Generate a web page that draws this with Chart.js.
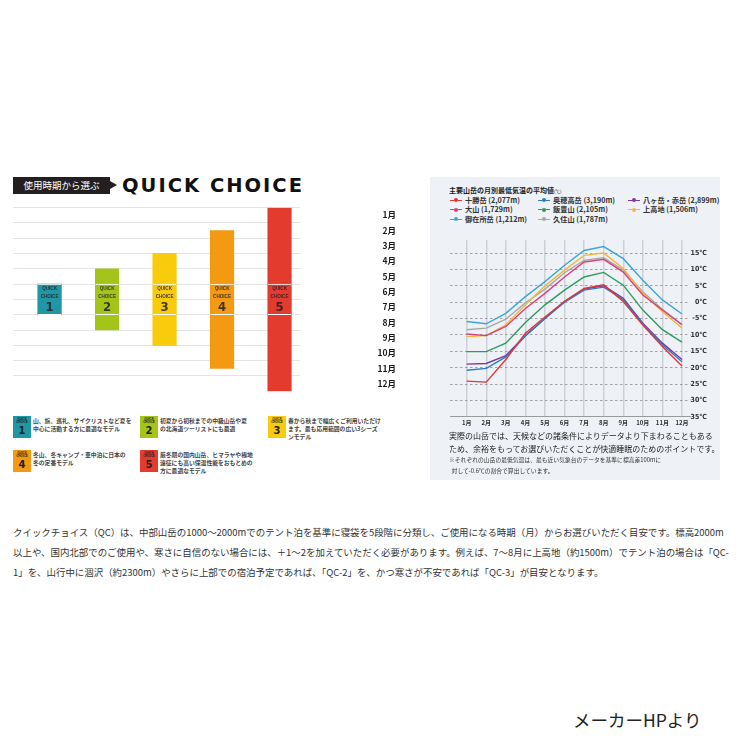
<!DOCTYPE html>
<html lang="ja">
<head>
<meta charset="utf-8">
<title>QUICK CHOICE</title>
<script src="https://cdn.jsdelivr.net/npm/chart.js@4.4.1/dist/chart.umd.min.js"></script>
<style>
  body { margin:0; width:750px; height:750px; background:#fff; position:relative; overflow:hidden;
         font-family:"Noto Sans CJK JP", sans-serif; color:#222; }
  .abs { position:absolute; white-space:nowrap; }
  #qcTag { left:13px; top:177px; width:97px; height:17px; background:#231f20; color:#fff;
           font-size:9.5px; line-height:17px; text-align:center; }
  #qcArrow { left:110px; top:181px; width:0; height:0; border-top:4.5px solid transparent;
             border-bottom:4.5px solid transparent; border-left:7px solid #231f20; }
  #qcTitle { left:122px; top:175px; font-family:"DejaVu Sans", sans-serif; font-weight:bold;
             font-size:19.5px; line-height:22px; letter-spacing:2px; color:#111; }
  .icon { width:18px; height:22px; color:#222; text-align:center; font-family:"Liberation Sans", sans-serif; }
  .icon .s { font-size:3px; line-height:3.4px; font-weight:bold; padding-top:2px; }
  .icon .n { font-family:"Liberation Sans Narrow", "DejaVu Sans Condensed", "Liberation Sans", sans-serif;
             font-weight:bold; font-size:11px; line-height:11px; }
  .desc { font-size:5.8px; line-height:8.3px; font-weight:bold; color:#444; }
  #panel { left:430px; top:177px; width:290px; height:303px; background:#eef1f5; }
  #tTitle { left:449px; top:185px; font-size:7px; line-height:10px; font-weight:bold; color:#222; }
  #tTitle small { font-size:4.5px; font-weight:normal; }
  .lg { font-size:7.2px; line-height:9px; font-weight:bold; color:#333; }
  .lg i { display:inline-block; position:relative; width:12px; height:9px; vertical-align:top; margin-right:3px; }
  .lg i b { position:absolute; left:0; top:4px; width:12px; height:1.2px; }
  .lg i u { position:absolute; left:4px; top:2.6px; width:4px; height:4px; border-radius:50%; }
  #note1 { left:449px; top:430px; font-size:8px; line-height:12.5px; color:#222; }
  #note2 { left:449px; top:455px; font-size:5.8px; line-height:10.5px; color:#333; }
  #para { left:13px; top:522px; font-size:9.45px; line-height:20px; color:#333; }
  #source { left:573px; top:707px; font-size:17.5px; line-height:26px; color:#222; }
</style>
</head>
<body>
<div class="abs" id="qcTag">使用時期から選ぶ</div>
<div class="abs" id="qcArrow"></div>
<div class="abs" id="qcTitle">QUICK CHOICE</div>

<div class="abs" style="left:0;top:200px;width:400px;height:198px">
  <canvas id="qcChart" width="400" height="198"></canvas>
</div>

<div id="qcLegend"></div>

<div class="abs" id="panel"></div>
<div class="abs" id="tTitle">主要山岳の月別最低気温の平均値<small>(℃)</small></div>
<div id="tempLegend"></div>
<div class="abs" style="left:430px;top:232px;width:290px;height:200px">
  <canvas id="tempChart" width="290" height="200"></canvas>
</div>
<div class="abs" id="note1">実際の山岳では、天候などの諸条件によりデータより下まわることもある<br>ため、余裕をもってお選びいただくことが快適睡眠のためのポイントです。</div>
<div class="abs" id="note2">※それぞれの山岳の最低気温は、最も近い気象台のデータを基準に標高差100mに<br>&nbsp;&nbsp;対して-0.6℃の割合で算出しています。</div>

<div class="abs" id="para">クイックチョイス（QC）は、中部山岳の1000～2000mでのテント泊を基準に寝袋を5段階に分類し、ご使用になる時期（月）からお選びいただく目安です。標高2000m<br>以上や、国内北部でのご使用や、寒さに自信のない場合には、＋1～2を加えていただく必要があります。例えば、7～8月に上高地（約1500m）でテント泊の場合は「QC-<br>1」を、山行中に涸沢（約2300m）やさらに上部での宿泊予定であれば、「QC-2」を、かつ寒さが不安であれば「QC-3」が目安となります。</div>
<div class="abs" id="source">メーカーHPより</div>

<script>
// ---- data ----
const monthLabels = ['1月','2月','3月','4月','5月','6月','7月','8月','9月','10月','11月','12月'];
const months = [1,2,3,4,5,6,7,8,9,10,11,12];

// quick choice: period in months from start of Jan (0 = 1月の始め, 12 = 12月の終わり)
const qcNumbers = ['1','2','3','4','5'];
const qcStart = [5, 4, 3, 1.5, 0];
const qcEnd   = [7, 8, 9, 10.5, 12];
const qcColors = ['#1f97a4','#a5c41a','#f8cb0c','#f39a12','#e43b2f'];
const qcDesc = [
  '山、旅、巡礼、サイクリストなど夏を<br>中心に活動する方に最適なモデル',
  '初夏から初秋までの中級山岳や夏<br>の北海道ツーリストにも最適',
  '春から秋まで幅広くご利用いただけ<br>ます。最も応用範囲の広い3シーズ<br>ンモデル',
  '冬山、冬キャンプ・車中泊に日本の<br>冬の定番モデル',
  '厳冬期の国内山岳、ヒマラヤや極地<br>遠征にも高い保温性能をおもとめの<br>方に最適なモデル'
];
const boxStart = 5, boxEnd = 7;

// monthly mean minimum temperature (℃)
const mountainNames = ['十勝岳','奥穂高岳','八ヶ岳・赤岳','大山','飯豊山','上高地','御在所岳','久住山'];
const altitudes = ['2,077m','3,190m','2,899m','1,729m','2,105m','1,506m','1,212m','1,787m'];
const lineColors = ['#e2343a','#2e7fc1','#7b3a96','#d9417a','#2f9a5e','#f4b73f','#3ba6dc','#a8a8a8'];
const tokachi     = [-24.1,-24.4,-17.5, -9.5,-4.5, 0.3, 4.2, 5.3, 0.2,-7.0,-13.5,-19.5];
const okuhotaka   = [-20.8,-20.2,-16.7,-10.3,-5.0, 0.0, 3.7, 4.6, 0.8,-6.8,-13.0,-18.2];
const yatsugatake = [-18.9,-18.7,-16.3,-10.2,-5.0, 0.2, 4.0, 5.0, 1.2,-6.4,-12.5,-17.5];
const daisen      = [ -9.7,-10.2, -7.4, -1.9, 2.7, 7.7,12.3,13.1, 9.2, 2.2, -2.4, -6.9];
const iide        = [-15.1,-15.1,-12.5, -6.2,-0.8, 3.7, 7.7, 9.1, 5.2,-2.4, -8.4,-12.2];
const kamikochi   = [-10.5,-10.2, -6.9, -0.8, 5.0, 9.8,14.3,15.0,10.3, 2.7, -2.9, -7.9];
const gozaisho    = [ -5.9, -6.6, -3.4,  1.7, 6.3,11.3,15.8,17.0,13.3, 6.7,  0.7, -3.6];
const kuju        = [ -8.4, -7.9, -5.2, -0.2, 4.0, 9.0,12.8,13.6, 9.8, 3.2, -2.2, -6.8];
const tempSeries = [tokachi, okuhotaka, yatsugatake, daisen, iide, kamikochi, gozaisho, kuju];
const tempTicks = [15,10,5,0,-5,-10,-15,-20,-25,-30,-35];

const narrowFont = '"Liberation Sans Narrow", "DejaVu Sans Condensed", "Liberation Sans", sans-serif';

// ---- quick choice chart ----
const qcText = {
  id: 'qcText',
  afterDatasetsDraw(chart) {
    const ctx = chart.ctx;
    const x = chart.scales.x, y = chart.scales.y;
    const top = y.getPixelForValue(boxStart);
    ctx.save();
    ctx.textAlign = 'center';
    ctx.textBaseline = 'middle';
    ctx.fillStyle = 'rgba(35,30,40,0.85)';
    qcNumbers.forEach((n, i) => {
      const cx = x.getPixelForValue(i);
      ctx.font = 'bold 4.6px "Liberation Sans", sans-serif';
      ctx.fillText('QUICK', cx, top + 4.8);
      ctx.fillText('CHOICE', cx, top + 12.6);
      ctx.font = 'bold 13px ' + narrowFont;
      ctx.fillText(n, cx, top + 23.2);
    });
    ctx.restore();
  }
};

new Chart(document.getElementById('qcChart'), {
  type: 'bar',
  data: {
    datasets: [
      {
        label: 'ラベル',
        data: qcNumbers.map((n, i) => ({x: i, y: [boxStart, boxEnd]})),
        backgroundColor: qcColors,
        borderColor: '#ffffff',
        borderWidth: {top: 1, bottom: 1, left: 0, right: 0},
        borderSkipped: false,
        barThickness: 23.5,
        grouped: false
      },
      {
        label: '使用時期',
        data: qcNumbers.map((n, i) => ({x: i, y: [qcStart[i], qcEnd[i]]})),
        backgroundColor: qcColors,
        borderWidth: 0,
        barThickness: 23.5,
        grouped: false
      }
    ]
  },
  options: {
    responsive: false,
    animation: false,
    layout: {padding: {left: 13, right: 4, top: 7.5, bottom: 6.7}},
    plugins: {legend: {display: false}, tooltip: {enabled: false}},
    scales: {
      x: {type: 'linear', min: -0.636, max: 4.36, offset: false, grid: {offset: false}, display: false},
      y: {
        type: 'linear', min: 0, max: 12, reverse: true, position: 'left', offset: false,
        afterBuildTicks: s => { s.ticks = monthLabels.map((m, i) => ({value: i})); },
        ticks: {display: false},
        grid: {color: '#e4e4e4', lineWidth: 1, drawTicks: false, offset: false},
        border: {display: false}
      },
      yl: {
        type: 'linear', min: 0, max: 12, reverse: true, position: 'right', offset: false,
        afterBuildTicks: s => { s.ticks = monthLabels.map((m, i) => ({value: i + 0.5})); },
        // the wide label gap should not shrink the plot vertically
        afterFit: s => { s.paddingTop = 0; s.paddingBottom = 0; },
        ticks: {
          callback: (v, i) => monthLabels[i],
          autoSkip: false, padding: 48, crossAlign: 'far', color: '#1a1a1a',
          font: {family: '"Noto Sans CJK JP", sans-serif', size: 8.5, weight: 'bold'}
        },
        grid: {display: false, offset: false},
        border: {display: false}
      }
    }
  },
  plugins: [qcText]
});

// quick choice legend
const qcLegend = document.getElementById('qcLegend');
const legendPos = [[13,416],[140,416],[268,416],[13,450],[140,450]];
qcNumbers.forEach((n, i) => {
  const [lx, ly] = legendPos[i];
  qcLegend.insertAdjacentHTML('beforeend',
    `<div class="abs icon" style="left:${lx}px;top:${ly}px;background:${qcColors[i]}">` +
    `<div class="s">QUICK<br>CHOICE</div><div class="n">${n}</div></div>` +
    `<div class="abs desc" style="left:${lx + 20}px;top:${ly + 0.5}px">${qcDesc[i]}</div>`);
});

// ---- temperature chart ----
const tempChart = new Chart(document.getElementById('tempChart'), {
  type: 'line',
  data: {
    datasets: tempSeries.map((vals, k) => ({
      label: mountainNames[k] + ' (' + altitudes[k] + ')',
      data: vals.map((v, i) => ({x: months[i], y: v})),
      borderColor: lineColors[k],
      backgroundColor: lineColors[k],
      borderWidth: 1.4,
      pointRadius: 0,
      tension: 0
    }))
  },
  options: {
    responsive: false,
    animation: false,
    layout: {padding: {left: 20, right: 13, top: 8, bottom: 4}},
    plugins: {legend: {display: false}, tooltip: {enabled: false}},
    scales: {
      x: {
        type: 'linear', min: 0.147, max: 12.41,
        afterBuildTicks: s => { s.ticks = months.map(m => ({value: m})); },
        ticks: {
          callback: (v, i) => monthLabels[i], autoSkip: false, maxRotation: 0,
          padding: 2, color: '#333',
          font: {family: '"Noto Sans CJK JP", sans-serif', size: 6, weight: 'bold'}
        },
        grid: {color: '#cdd1d6', lineWidth: 1.5, drawTicks: false},
        border: {color: '#9a9a9a', width: 1}
      },
      y: {
        type: 'linear', min: -35, max: 19, position: 'right',
        afterBuildTicks: s => { s.ticks = tempTicks.map(t => ({value: t})); },
        // keep the plot wide; labels may run into the right margin
        afterFit: s => { s.width = 17; },
        ticks: {
          callback: v => v + '℃', padding: 0, crossAlign: 'far', color: '#333',
          font: {family: narrowFont, size: 7, weight: 'bold'}
        },
        grid: {color: '#8e8e8e', lineWidth: 0.8, drawTicks: false},
        border: {display: false, dash: [2.5, 2.5]}
      }
    }
  }
});

// temperature legend (3 columns)
const tempLegend = document.getElementById('tempLegend');
const colX = [450, 538, 628];
tempChart.data.datasets.forEach((ds, k) => {
  const col = k % 3, row = Math.floor(k / 3);
  tempLegend.insertAdjacentHTML('beforeend',
    `<div class="abs lg" style="left:${colX[col]}px;top:${195.5 + row * 9.5}px">` +
    `<i><b style="background:${ds.borderColor}"></b><u style="background:${ds.borderColor}"></u></i>${ds.label}</div>`);
});
</script>
</body>
</html>
